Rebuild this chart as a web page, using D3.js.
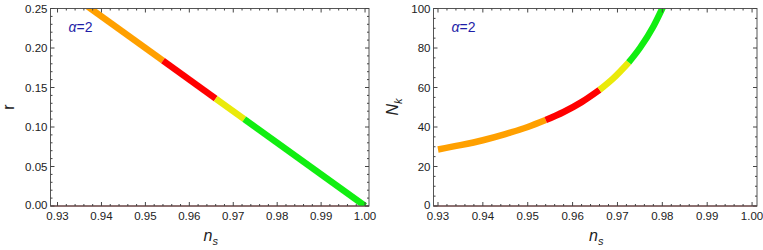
<!DOCTYPE html>
<html>
<head>
<meta charset="utf-8">
<script src="https://cdn.jsdelivr.net/npm/d3@7"></script>
<style>
  body { margin: 0; background: #fff; }
  svg text { font-family: "Liberation Sans", Arial, sans-serif; }
</style>
</head>
<body>
<div id="chart"></div>
<script>
// values
var nsR = [0.9365, 0.954, 0.966, 0.9725, 1.000];      // left panel, straight line
var rVals = [0.254, 0.184, 0.136, 0.110, 0.000];

var nsN = [0.930, 0.935, 0.940, 0.945, 0.950, 0.954, 0.958, 0.962, 0.966, 0.969, 0.9725, 0.975, 0.978, 0.9805];
var nkVals = [28.6, 30.8, 33.3, 36.4, 40.0, 43.5, 47.6, 52.6, 58.8, 64.5, 72.7, 80.0, 90.9, 102.5];

var bands = [0.954, 0.966, 0.9725];   // colour changes along n_s
var bandColors = ["#ffa000", "#ff0000", "#eaea0a", "#11ee11"];

var xTicks = [0.93, 0.94, 0.95, 0.96, 0.97, 0.98, 0.99, 1.00];
var rTicks = [0, 0.05, 0.10, 0.15, 0.20, 0.25];
var nkTicks = [0, 20, 40, 60, 80, 100];

var width = 763, height = 250;

var svg = d3.select("#chart").append("svg")
    .attr("width", width)
    .attr("height", height);

var panelNo = 0;

function panel(opt) {
  var x = d3.scaleLinear().domain(opt.xDomain).range(opt.xRange);
  var y = d3.scaleLinear().domain(opt.yDomain).range([206, 8.5]);
  var g = svg.append("g");
  var fx0 = opt.xRange[0], fx1 = opt.xRange[1], fy0 = 8.5, fy1 = 206;

  var clipId = "clip" + (panelNo++);
  svg.append("clipPath").attr("id", clipId)
    .append("rect").attr("x", fx0).attr("y", fy0)
      .attr("width", fx1 - fx0).attr("height", fy1 - fy0);

  // dark red axis line at y = 0
  g.append("line")
      .attr("x1", fx0).attr("x2", fx1)
      .attr("y1", y(0)).attr("y2", y(0))
      .attr("stroke", "#8a1c1c").attr("stroke-width", 1);

  // the curve, one piece per colour band
  var pts = opt.xs.map(function(d, i){ return [d, opt.ys[i]]; });
  var line = d3.line()
      .x(function(d){ return x(d[0]); })
      .y(function(d){ return y(d[1]); })
      .curve(d3.curveMonotoneX);
  var edges = [-Infinity].concat(bands).concat([Infinity]);
  var cg = g.append("g").attr("clip-path", "url(#" + clipId + ")");
  for (var b = 0; b < bandColors.length; b++) {
    var seg = pts.filter(function(p){ return p[0] >= edges[b] - 1e-9 && p[0] <= edges[b+1] + 1e-9; });
    if (seg.length < 2) continue;
    cg.append("path")
        .attr("d", line(seg))
        .attr("fill", "none")
        .attr("stroke", bandColors[b])
        .attr("stroke-width", 6.5);
  }

  // frame with mirrored inward ticks
  g.append("rect")
      .attr("x", fx0).attr("y", fy0)
      .attr("width", fx1 - fx0).attr("height", fy1 - fy0)
      .attr("fill", "none").attr("stroke", "#555").attr("stroke-width", 1);

  var minorX = d3.range(0.93, 1.0001, 0.002);
  minorX.forEach(function(t){
    var major = xTicks.some(function(m){ return Math.abs(m - t) < 1e-6; });
    var len = major ? 4 : 2;
    g.append("line").attr("x1", x(t)).attr("x2", x(t)).attr("y1", fy1).attr("y2", fy1 - len).attr("stroke", "#444");
    g.append("line").attr("x1", x(t)).attr("x2", x(t)).attr("y1", fy0).attr("y2", fy0 + len).attr("stroke", "#444");
  });
  opt.yMinor.forEach(function(t){
    var major = opt.yTicks.some(function(m){ return Math.abs(m - t) < 1e-6; });
    var len = major ? 4 : 2;
    g.append("line").attr("x1", fx0).attr("x2", fx0 + len).attr("y1", y(t)).attr("y2", y(t)).attr("stroke", "#444");
    g.append("line").attr("x1", fx1).attr("x2", fx1 - len).attr("y1", y(t)).attr("y2", y(t)).attr("stroke", "#444");
  });

  g.selectAll(".xl").data(xTicks).enter().append("text")
      .attr("x", function(d){ return x(d); })
      .attr("y", 219.5)
      .attr("text-anchor", "middle")
      .attr("font-size", 11.5)
      .attr("fill", "#222")
      .text(function(d){ return d.toFixed(2); });

  g.selectAll(".yl").data(opt.yTicks).enter().append("text")
      .attr("x", fx0 - 3)
      .attr("y", function(d){ return y(d) + (d === 0 ? 2.5 : 4); })
      .attr("text-anchor", "end")
      .attr("font-size", 11.5)
      .attr("fill", "#222")
      .text(opt.yFmt);

  // axis titles
  var xt = g.append("text")
      .attr("x", (fx0 + fx1) / 2 + 1)
      .attr("y", 241)
      .attr("text-anchor", "middle")
      .attr("font-size", 16)
      .attr("fill", "#222");
  xt.append("tspan").attr("font-style", "italic").text("n");
  xt.append("tspan").attr("font-size", 11).attr("dy", 4).attr("font-style", "italic").text("s");

  var yt = g.append("text")
      .attr("transform", "translate(" + opt.yTitleX + ",107) rotate(-90)")
      .attr("text-anchor", "middle")
      .attr("font-size", 16)
      .attr("fill", "#222");
  if (opt.yTitleSub) {
    yt.append("tspan").attr("font-style", "italic").text(opt.yTitle);
    yt.append("tspan").attr("font-size", 11).attr("dy", 4).attr("font-style", "italic").text(opt.yTitleSub);
  } else {
    yt.text(opt.yTitle);
  }

  var al = g.append("text")
      .attr("x", fx0 + 18)
      .attr("y", 32)
      .attr("font-size", 14)
      .attr("fill", "#1e1ea8");
  al.append("tspan").attr("font-style", "italic").text("α");
  al.append("tspan").text("=2");
}

panel({
  xDomain: [0.9284, 1.0009], xRange: [50.5, 369],
  yDomain: [0, 0.25],
  xs: nsR, ys: rVals,
  yTicks: rTicks, yMinor: d3.range(0, 0.2501, 0.01),
  yFmt: function(d){ return d.toFixed(2); },
  yTitle: "r", yTitleX: 14
});

panel({
  xDomain: [0.9290, 1.0011], xRange: [433.5, 757],
  yDomain: [0, 100],
  xs: nsN, ys: nkVals,
  yTicks: nkTicks, yMinor: d3.range(0, 100.1, 5),
  yFmt: function(d){ return d; },
  yTitle: "N", yTitleSub: "k", yTitleX: 398
});
</script>
</body>
</html>
